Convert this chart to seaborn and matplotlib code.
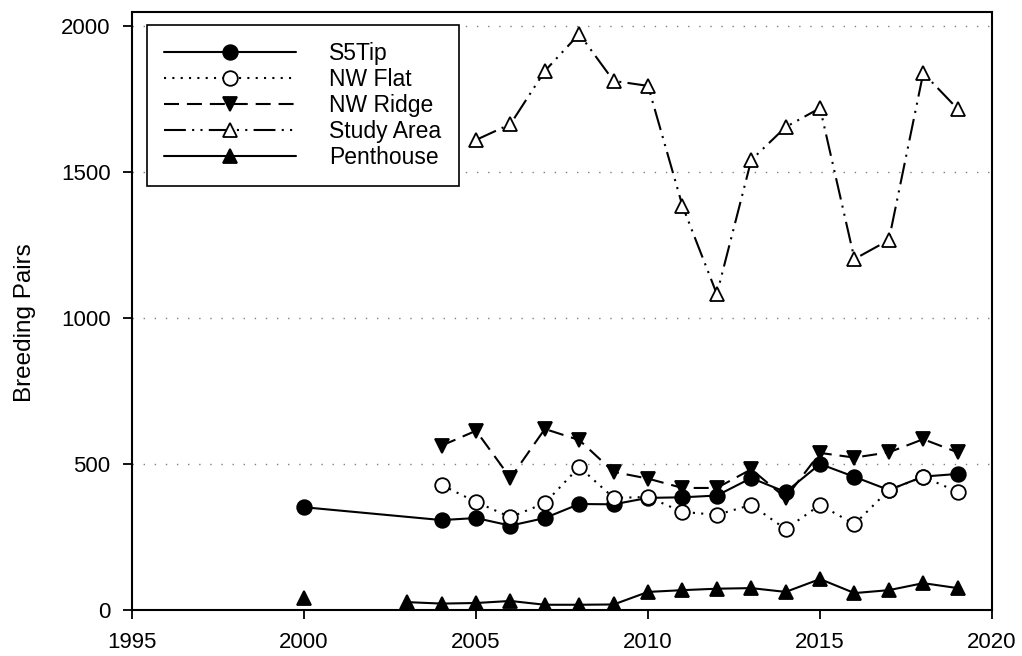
import numpy as np
import pandas as pd
import seaborn as sns
import matplotlib.pyplot as plt

# dados
years_s5 = [2000, 2004, 2005, 2006, 2007, 2008, 2009, 2010, 2011, 2012, 2013, 2014, 2015, 2016, 2017, 2018, 2019]
s5tip = [352, 308, 315, 289, 315, 363, 362, 384, 386, 392, 452, 404, 500, 456, 411, 457, 466]

years_nw = list(range(2004, 2020))
nw_flat = [428, 370, 318, 366, 490, 384, 387, 336, 326, 360, 277, 360, 294, 411, 456, 405]
nw_ridge = [563, 614, 452, 620, 582, 473, 450, 418, 418, 482, 384, 538, 522, 540, 585, 540]

years_study = list(range(2005, 2020))
study_area = [1610, 1664, 1846, 1973, 1812, 1795, 1384, 1082, 1541, 1654, 1719, 1202, 1267, 1839, 1716]

years_pent = [2000, 2003, 2004, 2005, 2006, 2007, 2008, 2009, 2010, 2011, 2012, 2013, 2014, 2015, 2016, 2017, 2018, 2019]
penthouse = [41, 27, 22, 24, 31, 18, 18, 19, 62, 68, 73, 75, 62, 106, 58, 68, 92, 75]
pent_segment = [0] + [1] * 17  # 2001-2002 sem dados, linha interrompida

sns.set_style("ticks")
plt.rcParams['font.family'] = ['Liberation Sans', 'DejaVu Sans']
plt.rcParams['text.color'] = 'black'
plt.rcParams['axes.labelcolor'] = 'black'

fig = plt.figure(figsize=(10.22, 6.56), dpi=100)
ax = fig.add_axes([0.1292, 0.0701, 0.8415, 0.9116])

lw = 1.5
ms = 10.5
common = dict(color='black', linewidth=lw, markersize=ms, markeredgecolor='black',
              markeredgewidth=1.3, estimator=None, ax=ax)

sns.lineplot(x=years_s5, y=s5tip, marker='o', markerfacecolor='black',
             linestyle='-', label='S5Tip', **common)
sns.lineplot(x=years_nw, y=nw_flat, marker='o', markerfacecolor='white',
             linestyle=(0, (1, 3)), label='NW Flat', **common)
sns.lineplot(x=years_nw, y=nw_ridge, marker='v', markerfacecolor='black',
             linestyle=(0, (7.2, 3.8)), label='NW Ridge', **common)
sns.lineplot(x=years_study, y=study_area, marker='^', markerfacecolor='white',
             linestyle=(0, (10.5, 3, 1, 3, 1, 3)), label='Study Area', **common)

pent = pd.DataFrame({'Year': years_pent, 'Pairs': penthouse, 'seg': pent_segment})
sns.lineplot(data=pent, x='Year', y='Pairs', units='seg', marker='^',
             markerfacecolor='black', linestyle='-', label='Penthouse', **common)

ax.set_xlim(1995, 2020)
ax.set_ylim(0, 2048)
ax.set_xticks(np.arange(1995, 2021, 5))
ax.set_yticks(np.arange(0, 2001, 500))
ax.yaxis.grid(True, linestyle=(0, (1, 7)), color='#808080', linewidth=1)
ax.set_axisbelow(True)
ax.tick_params(direction='out', length=6.5, width=1.3, labelsize=16, pad=9,
               colors='black')
for sp in ax.spines.values():
    sp.set_visible(True)
    sp.set_linewidth(1.5)
    sp.set_color('black')

ax.set_xlabel('')
ax.set_ylabel('Breeding Pairs', fontsize=17.5)
ax.yaxis.set_label_coords(-0.112, 0.48)

# legenda sem duplicar a Penthouse
handles, labels = ax.get_legend_handles_labels()
seen = {}
for h, l in zip(handles, labels):
    if l not in seen:
        seen[l] = h
leg = ax.legend(list(seen.values()), list(seen.keys()), loc='upper left',
                bbox_to_anchor=(0.0174, 0.978), borderaxespad=0, fontsize=16.5,
                handlelength=5.76, handletextpad=1.44, labelspacing=0.13,
                borderpad=0.75, fancybox=False, framealpha=1, edgecolor='black')
leg.get_frame().set_linewidth(1.2)

fig.savefig('out.png', dpi=100)
